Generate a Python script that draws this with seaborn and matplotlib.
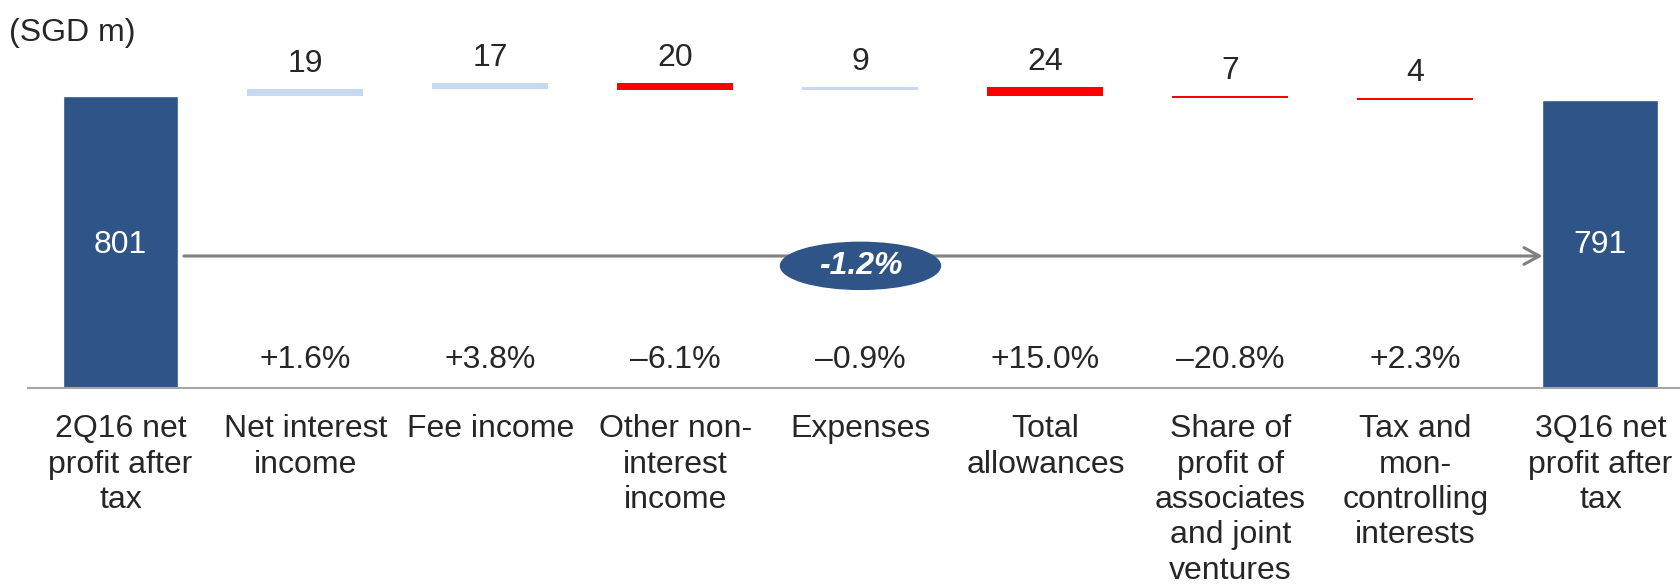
import numpy as np
import pandas as pd
import matplotlib
matplotlib.use("Agg")
import matplotlib.pyplot as plt
import seaborn as sns
from matplotlib.patches import Ellipse

# ==========================
# Data
# ==========================
categories = [
    "2Q16 net\nprofit after\ntax",
    "Net interest\nincome",
    "Fee income",
    "Other non-\ninterest\nincome",
    "Expenses",
    "Total\nallowances",
    "Share of\nprofit of\nassociates\nand joint\nventures",
    "Tax and\nmon-\ncontrolling\ninterests",
    "3Q16 net\nprofit after\ntax",
]
start_value = 801
end_value = 791
changes = [19, 17, -20, 9, -24, -7, -4]
change_labels = ["19", "17", "20", "9", "24", "7", "4"]
pct_labels = ["+1.6%", "+3.8%", "\u20136.1%", "\u20130.9%", "+15.0%", "\u201320.8%", "+2.3%"]
total_change = "-1.2%"

DARK = "#2F5487"
LIGHT = "#C6D9F1"
RED = "#FF0000"
FS = 23

# ==========================
# Figure
# ==========================
sns.set_style("white")
plt.rcParams["font.family"] = ["Liberation Sans", "DejaVu Sans"]

fig = plt.figure(figsize=(16.8, 5.85), dpi=100)
ax = fig.add_axes([28 / 1680, (585 - 388) / 585, 1 - 28 / 1680, 388 / 585])

totals = pd.DataFrame({"cat": [categories[0], categories[-1]],
                       "value": [start_value, end_value]})
sns.barplot(data=totals, x="cat", y="value", order=categories, color=DARK,
            width=0.627, saturation=1, ax=ax)

# floating bars
levels = start_value + np.cumsum(changes)
prev = np.concatenate([[start_value], levels[:-1]])
colors = [LIGHT if c > 0 else RED for c in changes]
pos = np.arange(1, len(changes) + 1)
ax.bar(pos, changes, bottom=prev, width=0.627, color=colors, linewidth=0)

for i, (p, c, lab, pct) in enumerate(zip(prev, changes, change_labels, pct_labels)):
    top = max(p, p + c)
    ax.annotate(lab, (pos[i], top), xytext=(0, 18), textcoords="offset points",
                ha="center", va="center", fontsize=FS)
    ax.text(pos[i], 76, pct, ha="center", va="center", fontsize=FS)

# total value labels
ax.text(0, 392, str(start_value), ha="center", va="center", color="white", fontsize=FS)
ax.text(8, 392, str(end_value), ha="center", va="center", color="white", fontsize=FS)

# arrow and overall change
ax.annotate("", xy=(7.6865, 362), xytext=(0.343, 362),
            arrowprops=dict(arrowstyle="->,head_length=1.1,head_width=0.6",
                            color="#808080", lw=2.2, shrinkA=0, shrinkB=0))
ax.add_patch(Ellipse((4, 335), 0.865, 129, color=DARK, zorder=5))
ax.text(4, 335, total_change, ha="center", va="center", color="white",
        fontsize=FS, fontweight="bold", fontstyle="italic", zorder=6)

# axes styling
ax.set_xlim(-0.5, 8.43)
ax.set_ylim(0, 1064)
ax.set_xlabel("")
ax.set_ylabel("")
ax.set_yticks([])
ax.set_xticks(range(len(categories)))
ax.set_xticklabels(categories, fontsize=FS, linespacing=1.23)
ax.tick_params(axis="x", length=0, pad=19)
for s in ["top", "left", "right"]:
    ax.spines[s].set_visible(False)
ax.spines["bottom"].set_color("#A6A6A6")
ax.spines["bottom"].set_linewidth(1.5)

fig.text(9 / 1680, 1 - 33 / 585, "(SGD m)", va="center", ha="left", fontsize=FS)

fig.savefig("out.png", dpi=100)
